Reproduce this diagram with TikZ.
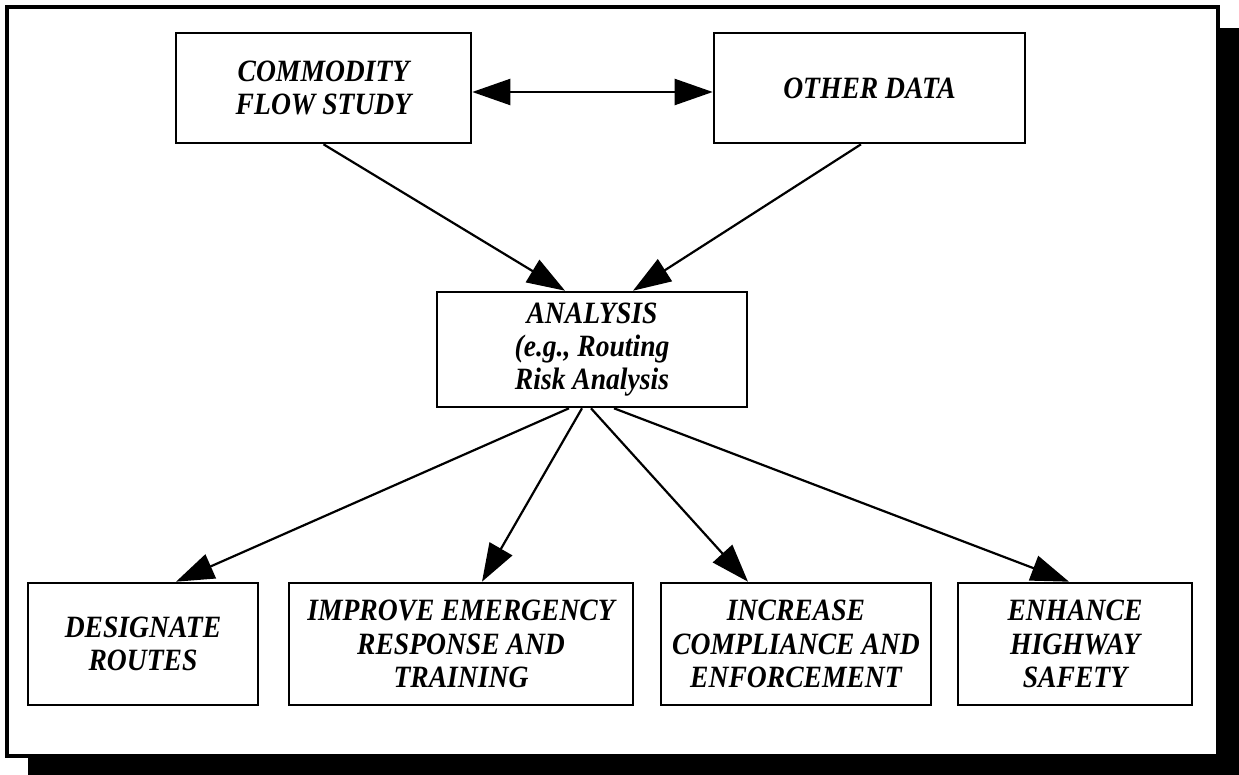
\documentclass[tikz,border=0pt]{standalone}
\usepackage{fontspec}
\setmainfont{Liberation Serif}
\newfontfamily\boxfont{Liberation Serif}[FakeStretch=0.89]
\usetikzlibrary{arrows.meta}

\begin{document}
\begin{tikzpicture}[x=0.5pt, y=-0.5pt,
  box/.style={draw, line width=1.3pt, fill=white, inner sep=0pt, align=center,
    minimum height=61pt, font=\fontsize{15.5}{16.7}\boxfont\bfseries\itshape},
  flow/.style={line width=1.1pt, -{Triangle[length=19pt, width=13pt]}}]
\useasboundingbox (0,0) rectangle (1239,775);

\fill[black] (28,28) rectangle (1239,775);
\draw[line width=1.8pt, fill=white] (7,7) rectangle (1218,756);

\node[box, minimum width=147.5pt, minimum height=55pt] (cfs) at (323.5,88) {COMMODITY\\FLOW STUDY};
\node[box, minimum width=155.5pt, minimum height=55pt] (oth) at (869.5,88) {OTHER DATA};
\node[box, minimum width=155pt, minimum height=57.5pt] (ana) at (592,349.5) {ANALYSIS\\(e.g., Routing\\Risk Analysis};

\node[box, minimum width=115pt] (des) at (143,644) {DESIGNATE\\ROUTES};
\node[box, minimum width=172pt] (imp) at (461,644) {IMPROVE EMERGENCY\\RESPONSE AND\\TRAINING};
\node[box, minimum width=135pt] (inc) at (796,644) {INCREASE\\COMPLIANCE AND\\ENFORCEMENT};
\node[box, minimum width=117pt] (enh) at (1075,644) {ENHANCE\\HIGHWAY\\SAFETY};

\draw[flow, {Triangle[length=19pt, width=13pt]}-{Triangle[length=19pt, width=13pt]}] ([yshift=-2pt]cfs.east) -- ([yshift=-2pt]oth.west);

\draw[flow] (cfs.south) -- ([xshift=-13.5pt]ana.north);
\draw[flow] ([xshift=-4.25pt]oth.south) -- ([xshift=20.5pt]ana.north);

\draw[flow] ([xshift=-11.5pt]ana.south) -- ([xshift=16.5pt]des.north);
\draw[flow] ([xshift=-5pt]ana.south) -- ([xshift=10.5pt]imp.north);
\draw[flow] ([xshift=-0.5pt]ana.south) -- ([xshift=-24pt]inc.north);
\draw[flow] ([xshift=11pt]ana.south) -- ([xshift=-3pt]enh.north);

\end{tikzpicture}
\end{document}
